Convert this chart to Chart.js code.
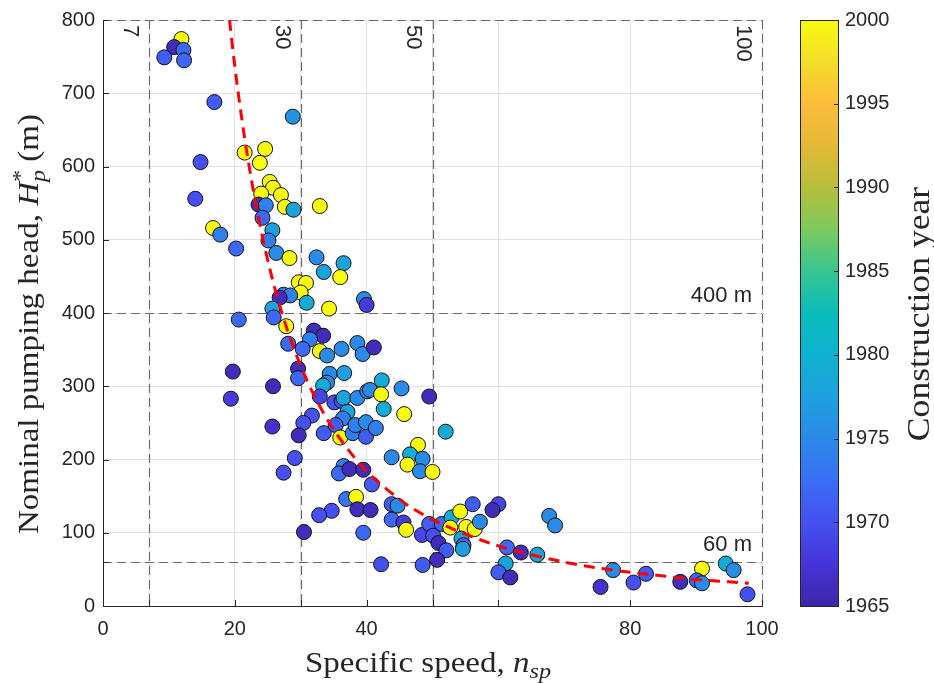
<!DOCTYPE html>
<html>
<head>
<meta charset="utf-8">
<script src="https://cdn.jsdelivr.net/npm/chart.js@4"></script>
<style>
  body { margin: 0; background: #fff; }
  #wrap { width: 934px; height: 683px; }
</style>
</head>
<body>
<div id="wrap"><canvas id="pumpChart"></canvas></div>
<script>
// ===== Data =====
// specific speed n_sp, nominal head H_p* (m), construction year
const nsp = [
  11.9, 10.8, 12.2, 9.3, 12.3, 16.9, 28.8, 21.5, 24.6, 23.8,
  14.8, 14.0, 25.3, 25.8, 27.0, 24.0, 23.6, 24.7, 27.6, 28.9,
  32.9, 24.2, 25.7, 25.1, 26.3, 28.3, 32.4, 36.5, 33.5, 36.0,
  29.7, 30.8, 30.0, 27.4, 28.4, 26.8, 30.9, 25.7, 25.9, 34.3,
  39.6, 40.0, 27.8, 32.0, 33.4, 31.4, 28.1, 30.3, 32.9, 34.0,
  36.2, 38.6, 39.4, 41.1, 19.7, 29.6, 29.6, 34.4, 36.6, 34.0,
  33.4, 25.8, 19.4, 32.9, 35.1, 36.2, 36.5, 38.6, 40.1, 37.1,
  36.4, 31.7, 30.4, 25.7, 33.5, 35.3, 36.0, 37.9, 38.3, 39.9,
  29.7, 29.1, 27.4, 36.5, 35.8, 37.4, 39.5, 20.6, 42.3, 40.5,
  42.2, 45.3, 49.5, 42.6, 45.7, 39.9, 41.4, 52.0, 47.8, 46.6,
  43.8, 48.5, 46.2, 48.1, 50.0, 40.8, 36.9, 38.4, 38.6, 40.6,
  34.7, 43.8, 44.7, 43.8, 45.6, 46.0, 39.5, 48.4, 49.5, 50.1,
  50.9, 51.4, 52.9, 52.7, 54.2, 56.1, 55.1, 56.4, 57.2, 54.4,
  54.7, 54.6, 60.0, 59.1, 52.1, 50.7, 48.5, 42.2, 61.3, 63.4,
  61.1, 60.0, 61.8, 67.7, 68.6, 65.9, 77.4, 75.5, 80.5, 82.4,
  87.6, 90.9, 90.1, 90.9, 94.5, 95.7, 97.8, 16.7, 17.8, 20.2,
  30.5, 32.8
];
const head = [
  774, 763, 759, 749, 745, 688, 668, 619, 624, 605,
  606, 556, 579, 571, 561, 563, 548, 547, 545, 541,
  546, 530, 513, 499, 482, 475, 476, 468, 456, 449,
  442, 441, 428, 425, 424, 421, 414, 406, 394, 406,
  419, 411, 382, 376, 369, 364, 358, 351, 348, 342,
  351, 359, 344, 353, 320, 324, 311, 317, 318, 305,
  301, 300, 283, 286, 278, 280, 284, 284, 293, 265,
  256, 260, 250, 245, 236, 247, 230, 236, 247, 231,
  233, 202, 182, 191, 181, 187, 186, 391, 308, 295,
  289, 297, 286, 269, 262, 251, 243, 238, 220, 207,
  203, 201, 193, 184, 183, 166, 146, 149, 132, 131,
  130, 139, 137, 118, 114, 104, 100, 97, 112, 96,
  86, 112, 121, 107, 129, 139, 108, 105, 115, 92,
  83, 78, 139, 131, 76, 63, 56, 57, 80, 73,
  58, 46, 39, 123, 110, 70, 49, 26, 32, 44,
  33, 51, 35, 31, 58, 49, 16, 516, 507, 488,
  101, 124
];
const year = [
  2000, 1966, 1972, 1971, 1972, 1971, 1976, 2000, 2000, 2000,
  1970, 1970, 2000, 2000, 2000, 2000, 1966, 1974, 2000, 1978,
  2000, 1972, 1977, 1974, 1975, 2000, 1975, 1978, 1978, 2000,
  2000, 2000, 2000, 1974, 1974, 1966, 1979, 1978, 1972, 2000,
  1975, 1968, 2000, 1966, 1966, 1974, 1972, 1972, 2000, 1975,
  1975, 1975, 1975, 1966, 1966, 1966, 1972, 1975, 1977, 1975,
  1979, 1966, 1968, 1969, 1970, 1970, 1978, 1975, 1974, 1978,
  1974, 1970, 1970, 1967, 1971, 1971, 2000, 1974, 1974, 1971,
  1966, 1970, 1970, 1974, 1972, 1966, 1966, 1972, 1979, 1975,
  2000, 1975, 1966, 1979, 2000, 1975, 1974, 1979, 2000, 1979,
  1975, 1975, 2000, 1975, 2000, 1971, 1973, 2000, 1966, 1966,
  1970, 1971, 1975, 1972, 1968, 2000, 1972, 1969, 1971, 1970,
  1966, 1972, 1979, 2000, 2000, 1971, 2000, 2000, 1975, 1978,
  1972, 1977, 1969, 1966, 1971, 1966, 1971, 1970, 1972, 1966,
  1978, 1971, 1966, 1975, 1975, 1978, 1975, 1967, 1970, 1971,
  1966, 2000, 1972, 1975, 1979, 1975, 1970, 2000, 1974, 1972,
  1966, 1970
];

// red dashed trend curve
const trendN = [19.2, 20, 21, 22, 23, 24, 25, 26, 27.5, 29, 31, 33, 35, 37.5, 40, 43, 46, 50, 55, 60, 65, 70, 75, 80, 85, 90, 95, 98];
const trendH = [800, 737, 669, 610, 558, 512, 472, 436, 390, 351, 307, 271, 241, 210, 184, 160, 139, 118, 98, 82, 70, 60, 52, 46, 41, 36, 33, 31];

// axes ticks and reference lines
const xTicks = [0, 7, 20, 30, 40, 50, 60, 80, 100];
const xTickLabels = ['0', '', '20', '', '40', '', '', '80', '100'];
const yTicks = [0, 60, 100, 200, 300, 400, 500, 600, 700, 800];
const yTickLabels = ['0', '', '100', '200', '300', '400', '500', '600', '700', '800'];
const refX = [7, 30, 50, 100];
const refXLabels = ['7', '30', '50', '100'];
const refY = [60, 400, 800];
const refYLabels = ['60 m', '400 m', ''];
const yearMin = 1965, yearMax = 2000;
const yearTicks = [1965, 1970, 1975, 1980, 1985, 1990, 1995, 2000];

// ===== Parula-like colormap =====
const parulaStops = [
  [0.000, 62, 38, 168], [0.071, 69, 52, 215], [0.143, 70, 80, 240],
  [0.214, 58, 110, 245], [0.286, 42, 138, 232], [0.357, 30, 160, 222],
  [0.429, 14, 178, 210], [0.500, 10, 188, 186], [0.571, 54, 198, 144],
  [0.643, 125, 202, 94], [0.714, 181, 191, 60], [0.786, 228, 184, 55],
  [0.857, 252, 189, 58], [0.929, 243, 221, 42], [1.000, 249, 251, 14]
];
function parula(t) {
  t = Math.max(0, Math.min(1, t));
  for (let i = 1; i < parulaStops.length; i++) {
    const a = parulaStops[i - 1], b = parulaStops[i];
    if (t <= b[0]) {
      const f = (t - a[0]) / (b[0] - a[0]);
      const c = [1, 2, 3].map(k => Math.round(a[k] + f * (b[k] - a[k])));
      return `rgb(${c[0]},${c[1]},${c[2]})`;
    }
  }
  return 'rgb(249,251,14)';
}
const yearColor = y => parula((y - yearMin) / (yearMax - yearMin));

const axisColor = '#262626';
const tickFont = { family: 'Liberation Sans', size: 20 };
const serif = 'Liberation Serif';

// draw a run of text pieces with different fonts / offsets (sx = horizontal stretch, LaTeX look)
function drawRich(ctx, parts, x, y, angle, align, sx) {
  ctx.save();
  ctx.translate(x, y);
  ctx.rotate(angle);
  ctx.scale(sx || 1, 1);
  ctx.textBaseline = 'alphabetic';
  ctx.textAlign = 'left';
  let total = 0, widths = [];
  parts.forEach(p => { ctx.font = p.font; const w = ctx.measureText(p.t).width; widths.push(w); if (!p.stack) total += w; });
  let cx = align === 'center' ? -total / 2 : 0;
  let lastW = 0;
  parts.forEach((p, i) => {
    ctx.font = p.font;
    if (p.stack) {
      ctx.fillText(p.t, cx - lastW, p.dy || 0);
      cx += Math.max(0, widths[i] - lastW);
    } else {
      ctx.fillText(p.t, cx, p.dy || 0);
      cx += widths[i];
      lastW = widths[i];
    }
  });
  ctx.restore();
}

const overlay = {
  id: 'overlay',
  beforeDatasetsDraw(chart) {
    const { ctx, chartArea: a, scales: { x, y } } = chart;
    ctx.save();
    ctx.strokeStyle = '#6b6b6b';
    ctx.lineWidth = 1.2;
    ctx.setLineDash([9, 5]);
    refX.forEach(v => {
      const px = Math.round(x.getPixelForValue(v)) + 0.5;
      ctx.beginPath(); ctx.moveTo(px, a.top); ctx.lineTo(px, a.bottom); ctx.stroke();
    });
    refY.forEach(v => {
      const py = Math.round(y.getPixelForValue(v)) + 0.5;
      ctx.beginPath(); ctx.moveTo(a.left, py); ctx.lineTo(a.right, py); ctx.stroke();
    });
    ctx.restore();
  },
  afterDraw(chart) {
    const { ctx, chartArea: a, scales: { x, y } } = chart;
    ctx.save();
    // inward tick marks
    ctx.strokeStyle = axisColor;
    ctx.lineWidth = 1;
    xTicks.forEach(v => {
      const px = Math.round(x.getPixelForValue(v)) + 0.5;
      ctx.beginPath(); ctx.moveTo(px, a.bottom); ctx.lineTo(px, a.bottom - 6); ctx.stroke();
    });
    yTicks.forEach(v => {
      const py = Math.round(y.getPixelForValue(v)) + 0.5;
      ctx.beginPath(); ctx.moveTo(a.left, py); ctx.lineTo(a.left + 6, py); ctx.stroke();
    });

    // reference line labels
    ctx.fillStyle = axisColor;
    ctx.font = '22px Liberation Sans';
    refX.forEach((v, i) => {
      ctx.save();
      ctx.translate(x.getPixelForValue(v) - 19, a.top + 5);
      ctx.rotate(Math.PI / 2);
      ctx.textAlign = 'left';
      ctx.textBaseline = 'middle';
      ctx.fillText(refXLabels[i], 0, 0);
      ctx.restore();
    });
    ctx.textAlign = 'right';
    ctx.textBaseline = 'middle';
    refY.forEach((v, i) => {
      if (refYLabels[i]) ctx.fillText(refYLabels[i], a.right - 10, y.getPixelForValue(v) - 17);
    });

    // axis titles
    ctx.fillStyle = axisColor;
    drawRich(ctx, [
      { t: 'Specific speed, ', font: `30px ${serif}` },
      { t: 'n', font: `italic 30px ${serif}` },
      { t: 'sp', font: `italic 22px ${serif}`, dy: 6 }
    ], 305, 672, 0, 'left', 1.1);
    drawRich(ctx, [
      { t: 'Nominal pumping head, ', font: `30px ${serif}` },
      { t: 'H', font: `italic 30px ${serif}` },
      { t: '*', font: `22px ${serif}`, dy: -11 },
      { t: 'p', font: `italic 22px ${serif}`, dy: 7, stack: true },
      { t: ' (m)', font: `30px ${serif}` }
    ], 38, 324, -Math.PI / 2, 'center', 1.1);

    // colorbar
    const cbL = 800, cbR = 838, cbT = a.top, cbB = a.bottom;
    const grad = ctx.createLinearGradient(0, cbB, 0, cbT);
    parulaStops.forEach(s => grad.addColorStop(s[0], `rgb(${s[1]},${s[2]},${s[3]})`));
    ctx.fillStyle = grad;
    ctx.fillRect(cbL, cbT, cbR - cbL, cbB - cbT);
    ctx.strokeStyle = axisColor;
    ctx.lineWidth = 1;
    ctx.strokeRect(cbL + 0.5, cbT + 0.5, cbR - cbL, cbB - cbT);
    ctx.fillStyle = axisColor;
    ctx.font = '20px Liberation Sans';
    ctx.textAlign = 'left';
    ctx.textBaseline = 'middle';
    yearTicks.forEach(yr => {
      const py = cbB - (yr - yearMin) / (yearMax - yearMin) * (cbB - cbT);
      ctx.beginPath(); ctx.moveTo(cbR, Math.round(py) + 0.5); ctx.lineTo(cbR - 4, Math.round(py) + 0.5); ctx.stroke();
      ctx.fillText(String(yr), cbR + 7, py);
    });
    drawRich(ctx, [{ t: 'Construction year', font: `31px ${serif}` }], 929, 314, -Math.PI / 2, 'center', 1.15);
    ctx.restore();
  }
};

// ===== Chart =====
const ctx1 = document.getElementById('pumpChart').getContext('2d');
const pumpChart = new Chart(ctx1, {
  type: 'scatter',
  data: {
    datasets: [{
      label: 'Trend',
      data: trendN.map((n, i) => ({ x: n, y: trendH[i] })),
      showLine: true,
      borderColor: '#ff0000',
      borderWidth: 3,
      borderDash: [11, 7],
      pointRadius: 0,
      cubicInterpolationMode: 'monotone',
      fill: false,
      order: 0
    }, {
      label: 'Pumps',
      data: nsp.map((n, i) => ({ x: n, y: head[i] })),
      pointRadius: 7.5,
      pointBorderWidth: 1,
      pointBorderColor: '#111',
      pointBackgroundColor: year.map(yearColor),
      order: 1
    }]
  },
  options: {
    responsive: true,
    maintainAspectRatio: false,
    animation: false,
    layout: { padding: { top: 15, right: 172, left: 0, bottom: 0 } },
    plugins: { legend: { display: false }, tooltip: { enabled: false } },
    scales: {
      x: {
        type: 'linear', min: 0, max: 100,
        afterBuildTicks: s => { s.ticks = xTicks.map(v => ({ value: v })); },
        afterFit: s => { s.height = 77; },
        ticks: {
          autoSkip: false, maxRotation: 0, padding: 11, color: axisColor, font: tickFont,
          callback: v => xTickLabels[xTicks.indexOf(v)] ?? ''
        },
        grid: { color: '#e2e2e2', drawTicks: false },
        border: { color: axisColor, width: 1 }
      },
      y: {
        type: 'linear', min: 0, max: 800,
        afterBuildTicks: s => { s.ticks = yTicks.map(v => ({ value: v })); },
        afterFit: s => { s.width = 103; },
        ticks: {
          autoSkip: false, padding: 8, color: axisColor, font: tickFont,
          callback: v => yTickLabels[yTicks.indexOf(v)] ?? ''
        },
        grid: { color: '#e2e2e2', drawTicks: false },
        border: { color: axisColor, width: 1 }
      }
    }
  },
  plugins: [overlay]
});
</script>
</body>
</html>
